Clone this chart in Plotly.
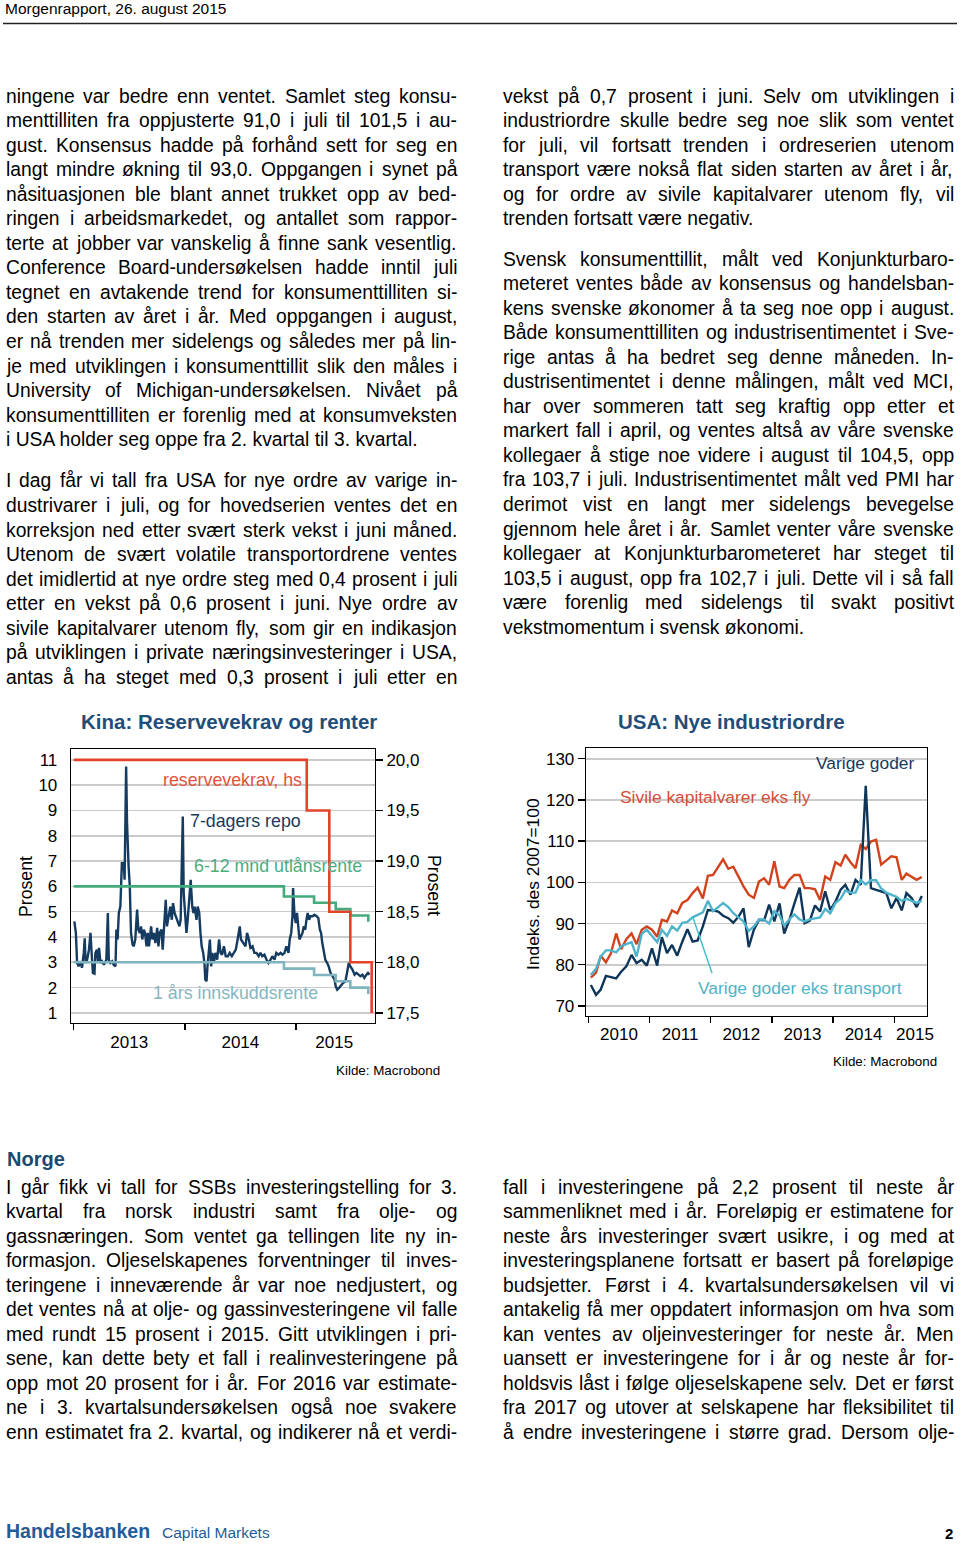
import plotly.graph_objects as go
import pandas as pd

# ---------------- data: Kina ----------------
# 7-dagers repo: days after 2013-01-01 and level (pct)
repo_day = [2, 7, 11, 16, 22, 27, 33, 36, 39, 44, 50, 55, 60, 63, 68, 71, 76, 80, 83, 88,
            93, 99, 107, 112, 115, 120, 126, 131, 137, 140, 144, 148, 153, 158, 164, 167, 172, 175, 180, 184,
            188, 193, 197, 202, 208, 212, 217, 221, 225, 230, 234, 239, 243, 247, 254, 258, 263, 268, 274, 278,
            282, 288, 292, 298, 302, 306, 312, 317, 322, 326, 331, 335, 341, 347, 351, 356, 358, 361, 364, 370,
            374, 379, 384, 389, 393, 397, 403, 407, 412, 416, 420, 425, 429, 432, 436, 439, 442, 447, 451, 455,
            460, 465, 471, 477, 482, 487, 493, 499, 506, 512, 519, 525, 532, 538, 545, 549, 556, 564, 569, 575,
            580, 587, 593, 600, 607, 613, 619, 626, 633, 639, 646, 652, 659, 665, 672, 679, 685, 692, 698, 705,
            709, 714, 718, 720, 725, 729, 733, 737, 741, 746, 751, 755, 760, 764, 768, 773, 777, 784, 790, 797,
            803, 808, 812, 816, 821, 826, 832, 837, 843, 849, 856, 860, 865, 871, 878, 884, 892, 897, 903, 908,
            915, 922, 928, 935, 941, 948, 954, 961, 966, 971]
repo_val = [4.62, 4.16, 2.97, 2.84, 3.04, 2.78, 3.37, 3.95, 2.97, 3.10, 3.50, 4.16, 3.10, 2.58, 2.55, 3.37, 3.50, 2.97, 3.57, 2.97,
            3.04, 2.90, 3.10, 4.95, 3.10, 2.97, 3.04, 2.90, 2.84, 4.29, 3.90, 4.95, 5.20, 6.92, 6.92, 6.26, 10.74, 8.50, 6.80, 6.00,
            4.16, 3.70, 3.63, 3.90, 5.08, 4.29, 4.16, 4.42, 3.90, 4.29, 4.16, 3.63, 4.16, 3.63, 4.42, 3.90, 4.16, 3.76, 4.36, 3.63,
            4.16, 4.29, 3.50, 4.82, 5.47, 4.42, 4.95, 5.20, 4.68, 5.34, 4.95, 4.82, 4.68, 4.42, 4.68, 7.45, 8.76, 5.73, 5.20, 4.16,
            4.68, 5.47, 6.26, 5.20, 4.95, 5.20, 4.68, 5.20, 4.95, 4.16, 3.63, 3.37, 2.97, 2.32, 2.25, 2.84, 3.37, 3.90, 2.84, 3.37,
            2.97, 3.37, 3.10, 3.90, 3.37, 3.30, 3.63, 3.24, 3.24, 3.37, 3.24, 3.37, 3.50, 3.90, 4.42, 3.90, 3.76, 3.63, 4.16, 3.90,
            3.57, 3.63, 3.37, 3.37, 3.24, 3.37, 3.24, 3.30, 3.10, 2.97, 3.10, 3.24, 3.10, 3.37, 3.30, 3.37, 3.30, 3.37, 3.63, 3.37,
            3.90, 4.16, 4.82, 5.93, 4.82, 4.55, 4.95, 4.29, 3.90, 4.03, 4.16, 4.42, 4.29, 4.68, 4.95, 4.68, 4.82, 4.82, 4.88, 4.82,
            4.75, 4.29, 4.16, 3.76, 3.37, 3.10, 2.97, 2.84, 2.58, 2.45, 2.32, 2.05, 1.92, 1.99, 2.12, 2.18, 2.25, 2.58, 2.97, 2.84,
            2.71, 2.51, 2.58, 2.51, 2.45, 2.51, 2.38, 2.51, 2.58, 2.51]
rrr_dates = ['2013-01-01', '2015-02-05', '2015-04-20', '2015-06-28', '2015-09-06']
rrr_vals = [20.0, 19.5, 18.5, 18.0, 17.5]
rate_dates = ['2013-01-01', '2014-11-22', '2015-03-01', '2015-05-11', '2015-06-28', '2015-08-26']
lend_vals = [6.0, 5.6, 5.35, 5.1, 4.85, 4.6]
dep_vals = [3.0, 2.75, 2.5, 2.25, 2.0, 1.75]
kina_left_ticks = [1, 2, 3, 4, 5, 6, 7, 8, 9, 10, 11]
kina_right_ticks = [17.5, 18.0, 18.5, 19.0, 19.5, 20.0]
kina_right_text = ['17,5', '18,0', '18,5', '19,0', '19,5', '20,0']
kina_year_text = ['2013', '2014', '2015']
kina_year_pos = ['2013-07-02', '2014-07-02', '2015-05-06']
kina_year_starts = ['2013-01-01', '2014-01-01', '2015-01-01']

# ---------------- data: USA (monthly, Jan 2010 - Jun 2015) ----------------
sivile = [76.9, 78.1, 82.2, 80.6, 82.8, 87.6, 83.8, 86.2, 87.6, 85.0, 88.5, 89.3,
          88.5, 86.8, 90.9, 90.5, 93.2, 92.5, 95.0, 95.7, 97.4, 98.7, 96.1, 101.6,
          101.8, 103.8, 105.6, 103.3, 103.8, 101.4, 99.0, 97.0, 96.2, 100.2, 101.0, 99.4,
          105.1, 99.0, 98.6, 100.6, 101.8, 101.8, 98.6, 98.6, 98.3, 95.7, 101.4, 100.6,
          104.9, 104.1, 106.7, 104.9, 103.4, 109.1, 108.1, 109.9, 110.3, 104.3, 105.3, 106.3,
          106.1, 100.6, 102.1, 101.4, 100.6, 101.3]
varige = [75.1, 72.7, 74.0, 77.3, 77.0, 76.7, 78.3, 79.6, 82.4, 80.4, 81.2, 79.8,
          84.0, 79.8, 86.7, 82.8, 84.8, 82.2, 85.6, 88.6, 85.6, 85.9, 89.3, 93.3,
          93.2, 92.9, 91.9, 91.3, 90.2, 91.7, 93.7, 84.3, 88.5, 90.9, 90.8, 94.6,
          90.5, 94.9, 87.6, 90.9, 94.9, 98.7, 90.1, 90.7, 94.4, 92.9, 97.8, 93.3,
          95.3, 98.2, 99.4, 97.0, 100.6, 99.4, 123.4, 98.6, 98.2, 97.8, 97.4, 93.7,
          96.2, 93.2, 97.4, 96.2, 94.0, 96.7]
varige_ex = [77.5, 79.0, 82.0, 83.5, 83.5, 83.0, 84.5, 85.0, 85.5, 82.0, 87.5, 88.5,
             87.0, 85.5, 88.5, 87.0, 89.3, 88.3, 90.2, 90.4, 91.5, 92.0, 92.7, 95.5,
             93.0, 94.0, 95.0, 94.0, 92.5, 91.5, 90.5, 88.2, 89.3, 91.0, 91.0, 90.0,
             93.0, 92.0, 89.5, 91.0, 92.2, 91.0, 90.5, 91.0, 91.2, 91.5, 93.5, 92.5,
             95.0, 96.0, 98.0, 97.5, 97.5, 100.5, 99.5, 100.5, 100.5, 98.5, 97.5, 97.0,
             96.5, 95.5, 96.0, 95.5, 95.0, 95.5]
usa_ticks = [70, 80, 90, 100, 110, 120, 130]
usa_year_text = ['2010', '2011', '2012', '2013', '2014', '2015']
usa_year_pos = ['2010-07-02', '2011-07-02', '2012-07-02', '2013-07-02', '2014-07-02', '2015-05-05']
usa_year_starts = ['2010-01-01', '2011-01-01', '2012-01-01', '2013-01-01', '2014-01-01', '2015-01-01']

# ---------------- page text ----------------
left_p1 = ["ningene var bedre enn ventet. Samlet steg konsu-",
           "menttilliten fra oppjusterte 91,0 i juli til 101,5 i au-",
           "gust. Konsensus hadde på forhånd sett for seg en",
           "langt mindre økning til 93,0. Oppgangen i synet på",
           "nåsituasjonen ble blant annet trukket opp av bed-",
           "ringen i arbeidsmarkedet, og antallet som rappor-",
           "terte at jobber var vanskelig å finne sank vesentlig.",
           "Conference Board-undersøkelsen hadde inntil juli",
           "tegnet en avtakende trend for konsumenttilliten si-",
           "den starten av året i år. Med oppgangen i august,",
           "er nå trenden mer sidelengs og således mer på lin-",
           "je med utviklingen i konsumenttillit slik den måles i",
           "University of Michigan-undersøkelsen. Nivået på",
           "konsumenttilliten er forenlig med at konsumveksten",
           "i USA holder seg oppe fra 2. kvartal til 3. kvartal."]
left_p2 = ["I dag får vi tall fra USA for nye ordre av varige in-",
           "dustrivarer i juli, og for hovedserien ventes det en",
           "korreksjon ned etter svært sterk vekst i juni måned.",
           "Utenom de svært volatile transportordrene ventes",
           "det imidlertid at nye ordre steg med 0,4 prosent i juli",
           "etter en vekst på 0,6 prosent i juni. Nye ordre av",
           "sivile kapitalvarer utenom fly, som gir en indikasjon",
           "på utviklingen i private næringsinvesteringer i USA,",
           "antas å ha steget med 0,3 prosent i juli etter en"]
right_p1 = ["vekst på 0,7 prosent i juni. Selv om utviklingen i",
            "industriordre skulle bedre seg noe slik som ventet",
            "for juli, vil fortsatt trenden i ordreserien utenom",
            "transport være nokså flat siden starten av året i år,",
            "og for ordre av sivile kapitalvarer utenom fly, vil",
            "trenden fortsatt være negativ."]
right_p2 = ["Svensk konsumenttillit, målt ved Konjunkturbaro-",
            "meteret ventes både av konsensus og handelsban-",
            "kens svenske økonomer å ta seg noe opp i august.",
            "Både konsumenttilliten og industrisentimentet i Sve-",
            "rige antas å ha bedret seg denne måneden. In-",
            "dustrisentimentet i denne målingen, målt ved MCI,",
            "har over sommeren tatt seg kraftig opp etter et",
            "markert fall i april, og ventes altså av våre svenske",
            "kollegaer å stige noe videre i august til 104,5, opp",
            "fra 103,7 i juli. Industrisentimentet målt ved PMI har",
            "derimot vist en langt mer sidelengs bevegelse",
            "gjennom hele året i år. Samlet venter våre svenske",
            "kollegaer at Konjunkturbarometeret har steget til",
            "103,5 i august, opp fra 102,7 i juli. Dette vil i så fall",
            "være forenlig med sidelengs til svakt positivt",
            "vekstmomentum i svensk økonomi."]
norge_left = ["I går fikk vi tall for SSBs investeringstelling for 3.",
              "kvartal fra norsk industri samt fra olje- og",
              "gassnæringen. Som ventet ga tellingen lite ny in-",
              "formasjon. Oljeselskapenes forventninger til inves-",
              "teringene i inneværende år var noe nedjustert, og",
              "det ventes nå at olje- og gassinvesteringene vil falle",
              "med rundt 15 prosent i 2015. Gitt utviklingen i pri-",
              "sene, kan dette bety et fall i realinvesteringene på",
              "opp mot 20 prosent for i år. For 2016 var estimate-",
              "ne i 3. kvartalsundersøkelsen også noe svakere",
              "enn estimatet fra 2. kvartal, og indikerer nå et verdi-"]
norge_right = ["fall i investeringene på 2,2 prosent til neste år",
               "sammenliknet med i år. Foreløpig er estimatene for",
               "neste års investeringer svært usikre, i og med at",
               "investeringsplanene fortsatt er basert på foreløpige",
               "budsjetter. Først i 4. kvartalsundersøkelsen vil vi",
               "antakelig få mer oppdatert informasjon om hva som",
               "kan ventes av oljeinvesteringer for neste år. Men",
               "uansett er investeringene for i år og neste år for-",
               "holdsvis låst i følge oljeselskapene selv. Det er først",
               "fra 2017 og utover at selskapene har fleksibilitet til",
               "å endre investeringene i større grad. Dersom olje-"]

# ---------------- helpers ----------------
W, H = 960, 1546
FONT = "Liberation Sans, Arial, sans-serif"


def PX(x):
    return x / W


def PY(y):
    return 1 - y / H


# Arial / Liberation Sans advance widths (1/1000 em)
CW = {}
for chars, wdt in [("ijl", 222), (" !,./:;Itf[]", 278), ("-()r", 333), ("ckszvxyJ", 500),
                   ("0123456789abdeghnopquåL?", 556), ("=+<>", 584), ("FTZø", 611),
                   ("ABEKPSVXYÅ&", 667), ("CDHNRUw", 722), ("GOQØ", 778), ("mM", 833),
                   ("%æ", 889), ("W", 944), ("Æ", 1000)]:
    for ch in chars:
        CW[ch] = wdt


def tw(s, fs):
    return sum(CW.get(c, 556) for c in s) * fs / 1000.0


annotations = []
BODY_FS = 19.3
LINE_H = 24.55


def add_par(lines, x0, x1, y0, justify_last=False):
    for i, line in enumerate(lines):
        y = y0 + i * LINE_H
        last = (i == len(lines) - 1) and not justify_last
        if last:
            annotations.append(dict(text=line, x=PX(x0), y=PY(y), xref="paper", yref="paper",
                                    xanchor="left", yanchor="middle", showarrow=False,
                                    borderpad=0, borderwidth=0,
                                    font=dict(family=FONT, size=BODY_FS, color="black")))
            continue
        words = line.split(" ")
        widths = [tw(w, BODY_FS) for w in words]
        gap = (x1 - x0 - sum(widths)) / max(len(words) - 1, 1)
        gap = max(gap, 0.2 * BODY_FS)
        x = x0
        for w, wd in zip(words, widths):
            annotations.append(dict(text=w, x=PX(x), y=PY(y), xref="paper", yref="paper",
                                    xanchor="left", yanchor="middle", showarrow=False,
                                    borderpad=0, borderwidth=0,
                                    font=dict(family=FONT, size=BODY_FS, color="black")))
            x += wd + gap


LX0, LX1, RX0, RX1 = 6, 457, 503, 954
add_par(left_p1, LX0, LX1, 96)
add_par(left_p2, LX0, LX1, 481, justify_last=True)
add_par(right_p1, RX0, RX1, 96)
add_par(right_p2, RX0, RX1, 259)
add_par(norge_left, LX0, LX1, 1187, justify_last=True)
add_par(norge_right, RX0, RX1, 1187, justify_last=True)


def txt(s, x, y, size, color="black", bold=False, xanchor="center", angle=0):
    annotations.append(dict(text=("<b>%s</b>" % s) if bold else s, x=PX(x), y=PY(y),
                            xref="paper", yref="paper", xanchor=xanchor, yanchor="middle",
                            showarrow=False, textangle=angle, borderpad=0, borderwidth=0,
                            font=dict(family=FONT, size=size, color=color)))


# header / footer / headings
txt("Morgenrapport, 26. august 2015", 5, 9, 15.5, xanchor="left")
txt("Norge", 7, 1159, 20, color="#1b4a6e", bold=True, xanchor="left")
txt("Handelsbanken", 6, 1531, 19.5, color="#1f5c99", bold=True, xanchor="left")
txt("Capital Markets", 162, 1532, 15.5, color="#1f5c99", xanchor="left")
txt("2", 949, 1533, 15, bold=True)

# chart titles, axis titles, sources
NAVY_T = "#1f4e79"
txt("Kina: Reservevekrav og renter", 229, 721, 20.5, color=NAVY_T, bold=True)
txt("USA: Nye industriordre", 731, 721, 20.5, color=NAVY_T, bold=True)
txt("Prosent", 26, 887, 17.7, angle=-90)
txt("Prosent", 434, 885, 17.7, angle=90)
txt("Indeks. des 2007=100", 533, 884, 17.4, angle=-90)
txt("Kilde: Macrobond", 440, 1070, 13.4, xanchor="right")
txt("Kilde: Macrobond", 937, 1061, 13.4, xanchor="right")

# series labels
C_RRR, C_REPO, C_LEND, C_DEP = "#e4432b", "#163b61", "#43ab7c", "#7fb4bf"
C_SIV, C_VAR, C_VEX = "#d2431d", "#0f3659", "#4fb3cb"
txt("reservevekrav, hs", 232, 780, 17.8, color="#e0543c")
txt("7-dagers repo", 246, 821, 17.8, color="#1a3a5c")
txt("6-12 mnd utlånsrente", 278, 866, 17.8, color="#4aad80")
txt("1 års innskuddsrente", 235, 993, 17.8, color="#86b6c1")
txt("Varige goder", 865, 763, 17.4, color="#163a5c")
txt("Sivile kapitalvarer eks fly", 715, 797, 17.4, color="#d24f3a")
txt("Varige goder eks transport", 800, 988, 17.4, color="#4fb3c8")

# pointer line from label to series
annotations.append(dict(x="2011-09-15", y=91.7, xref="x2", yref="y3",
                        ax="2012-01-12", ay=77.6, axref="x2", ayref="y3",
                        text="", showarrow=True, arrowhead=0, arrowwidth=1.5,
                        arrowcolor="#3ec3cf", standoff=0, startstandoff=0))

# ---------------- traces ----------------
fig = go.Figure()
repo_dates = pd.Timestamp("2013-01-01") + pd.to_timedelta(repo_day, unit="D")
usa_dates = pd.date_range("2010-01-01", periods=len(sivile), freq="MS") + pd.Timedelta(days=14)

fig.add_trace(go.Scatter(x=repo_dates, y=repo_val, mode="lines", xaxis="x", yaxis="y",
                         line=dict(color=C_REPO, width=2.4), showlegend=False, hoverinfo="skip"))
fig.add_trace(go.Scatter(x=rate_dates, y=dep_vals, mode="lines", xaxis="x", yaxis="y",
                         line=dict(color=C_DEP, width=2.6, shape="hv"), showlegend=False, hoverinfo="skip"))
fig.add_trace(go.Scatter(x=rate_dates, y=lend_vals, mode="lines", xaxis="x", yaxis="y",
                         line=dict(color=C_LEND, width=2.6, shape="hv"), showlegend=False, hoverinfo="skip"))
fig.add_trace(go.Scatter(x=rrr_dates, y=rrr_vals, mode="lines", xaxis="x", yaxis="y2",
                         line=dict(color=C_RRR, width=2.6, shape="hv"), showlegend=False, hoverinfo="skip"))

fig.add_trace(go.Scatter(x=usa_dates, y=sivile, mode="lines", xaxis="x2", yaxis="y3",
                         line=dict(color=C_SIV, width=2.4), showlegend=False, hoverinfo="skip"))
fig.add_trace(go.Scatter(x=usa_dates, y=varige, mode="lines", xaxis="x2", yaxis="y3",
                         line=dict(color=C_VAR, width=2.4), showlegend=False, hoverinfo="skip"))
fig.add_trace(go.Scatter(x=usa_dates, y=varige_ex, mode="lines", xaxis="x2", yaxis="y3",
                         line=dict(color=C_VEX, width=2.4), showlegend=False, hoverinfo="skip"))

# ---------------- axes ----------------
TICKF = dict(family=FONT, size=17, color="black")
GRID = "#cbcbcb"
kl, kr, kt, kb = 71, 375, 749, 1023
ul, ur, ut, ub = 586, 927, 748, 1016
left_rng = [0.6, 11.43]
right_rng = [17.5 + (v - 1) * 0.25 for v in left_rng]

fig.update_layout(
    width=W, height=H, margin=dict(l=0, r=0, t=0, b=0, autoexpand=False),
    paper_bgcolor="white", plot_bgcolor="white", showlegend=False,
    xaxis=dict(domain=[PX(kl), PX(kr)], anchor="y", type="date",
               range=["2012-12-23", "2015-09-17"],
               tickmode="array", tickvals=kina_year_pos, ticktext=kina_year_text,
               ticks="outside", ticklen=3, tickcolor="rgba(0,0,0,0)", tickfont=TICKF,
               showgrid=False, zeroline=False, showline=True, linecolor="black",
               linewidth=1.3, mirror=True,
               minor=dict(tickmode="array", tickvals=kina_year_starts, ticks="outside",
                          ticklen=6, tickwidth=1.3, tickcolor="black", showgrid=False)),
    yaxis=dict(domain=[PY(kb), PY(kt)], anchor="x", range=left_rng,
               tickmode="array", tickvals=kina_left_ticks,
               ticktext=[str(v) for v in kina_left_ticks],
               ticks="outside", ticklen=9, tickcolor="rgba(0,0,0,0)", tickfont=TICKF,
               showgrid=True, gridcolor=GRID, gridwidth=1.6, zeroline=False,
               showline=True, linecolor="black", linewidth=1.3, mirror=True),
    yaxis2=dict(overlaying="y", anchor="x", side="right", range=right_rng,
                tickmode="array", tickvals=kina_right_ticks, ticktext=kina_right_text,
                ticks="outside", ticklen=7, tickwidth=1.3, tickcolor="black", tickfont=TICKF,
                showgrid=False, zeroline=False, showline=False),
    xaxis2=dict(domain=[PX(ul), PX(ur)], anchor="y3", type="date",
                range=["2009-12-17", "2015-07-16"],
                tickmode="array", tickvals=usa_year_pos, ticktext=usa_year_text,
                ticks="outside", ticklen=2, tickcolor="rgba(0,0,0,0)", tickfont=TICKF,
                showgrid=False, zeroline=False, showline=True, linecolor="black",
                linewidth=1.3, mirror=True,
                minor=dict(tickmode="array", tickvals=usa_year_starts, ticks="outside",
                           ticklen=6, tickwidth=1.3, tickcolor="black", showgrid=False)),
    yaxis3=dict(domain=[PY(ub), PY(ut)], anchor="x2", range=[67.57, 132.6],
                tickmode="array", tickvals=usa_ticks, ticktext=[str(v) for v in usa_ticks],
                ticks="outside", ticklen=7, tickwidth=1.3, tickcolor="black", tickfont=TICKF,
                showgrid=True, gridcolor=GRID, gridwidth=1.6, zeroline=False,
                showline=True, linecolor="black", linewidth=1.3, mirror=True),
    annotations=annotations,
    shapes=[dict(type="line", xref="paper", yref="paper", x0=PX(3), x1=PX(957),
                 y0=PY(23.5), y1=PY(23.5), line=dict(color="#222222", width=1.4))],
)

fig.write_html(
    "out.html",
    config={"displayModeBar": False, "staticPlot": True},
    post_script=("document.documentElement.style.margin='0';"
                 "document.body.style.margin='0';"
                 "document.body.style.overflow='hidden';"),
)
